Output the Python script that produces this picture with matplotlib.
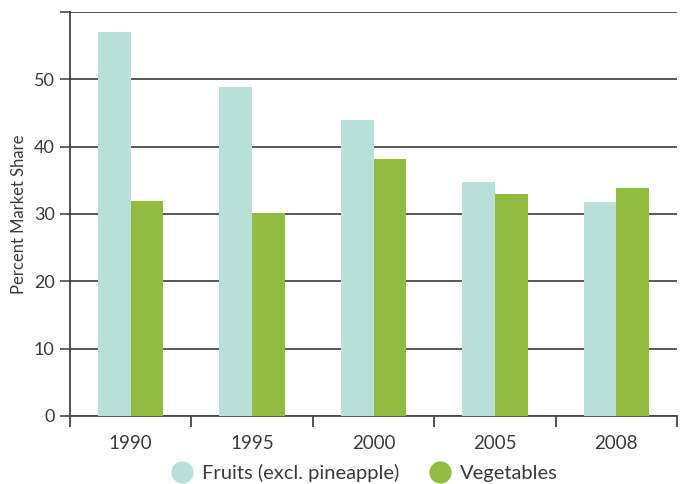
import numpy as np
import matplotlib.pyplot as plt
from matplotlib.lines import Line2D

years = ['1990', '1995', '2000', '2005', '2008']
fruits = [57.1, 48.8, 44.0, 34.8, 31.8]
vegetables = [32.0, 30.2, 38.1, 32.9, 33.9]

fruit_color = '#b8e0d8'
veg_color = '#8fbc41'

plt.rcParams['font.family'] = ['Lato', 'DejaVu Sans']

fig = plt.figure(figsize=(6.89, 4.84), dpi=100)
ax = fig.add_axes([70 / 689, 1 - 416 / 484, 607 / 689, 404 / 484])

x = np.arange(len(years))
w = 0.27
ax.bar(x - w / 2, fruits, w, color=fruit_color, zorder=3)
ax.bar(x + w / 2, vegetables, w, color=veg_color, zorder=3)

ax.set_xlim(-0.5, len(years) - 0.5)
ax.set_ylim(0, 60)
ax.set_yticks(np.arange(0, 61, 10))
ax.set_yticklabels(['0', '10', '20', '30', '40', '50', ''])
ax.yaxis.grid(True, color='#4a4a4a', linewidth=1.3, zorder=0)
ax.set_axisbelow(True)

# year labels centred under each group, ticks on group boundaries
ax.set_xticks(x)
ax.set_xticklabels(years)
ax.set_xticks(np.arange(-0.5, len(years)), minor=True)
ax.tick_params(axis='x', which='major', length=0, pad=14, labelsize=13.5, labelcolor='#3a3a3a')
ax.tick_params(axis='x', which='minor', length=8, width=1.2, color='#333333', direction='out')
ax.tick_params(axis='y', length=7, width=1.2, color='#4a4a4a', labelsize=13, labelcolor='#3a3a3a', pad=4)

for side in ['top', 'right']:
    ax.spines[side].set_visible(False)
ax.spines['left'].set_color('#333333')
ax.spines['left'].set_linewidth(1.2)
ax.spines['bottom'].set_color('#4a4a4a')
ax.spines['bottom'].set_linewidth(1.3)

ax.set_ylabel('Percent Market Share', fontsize=12, color='#3a3a3a', labelpad=5)

handles = [
    Line2D([], [], marker='o', linestyle='', markersize=15, color=fruit_color),
    Line2D([], [], marker='o', linestyle='', markersize=15, color=veg_color),
]
fig.legend(handles, ['Fruits (excl. pineapple)', 'Vegetables'], loc='center',
           bbox_to_anchor=(0.522, 0.023), ncol=2, frameon=False, fontsize=14.5,
           handletextpad=0.0, columnspacing=1.0, labelcolor='#3a3a3a')

fig.savefig('out.png', dpi=100)
